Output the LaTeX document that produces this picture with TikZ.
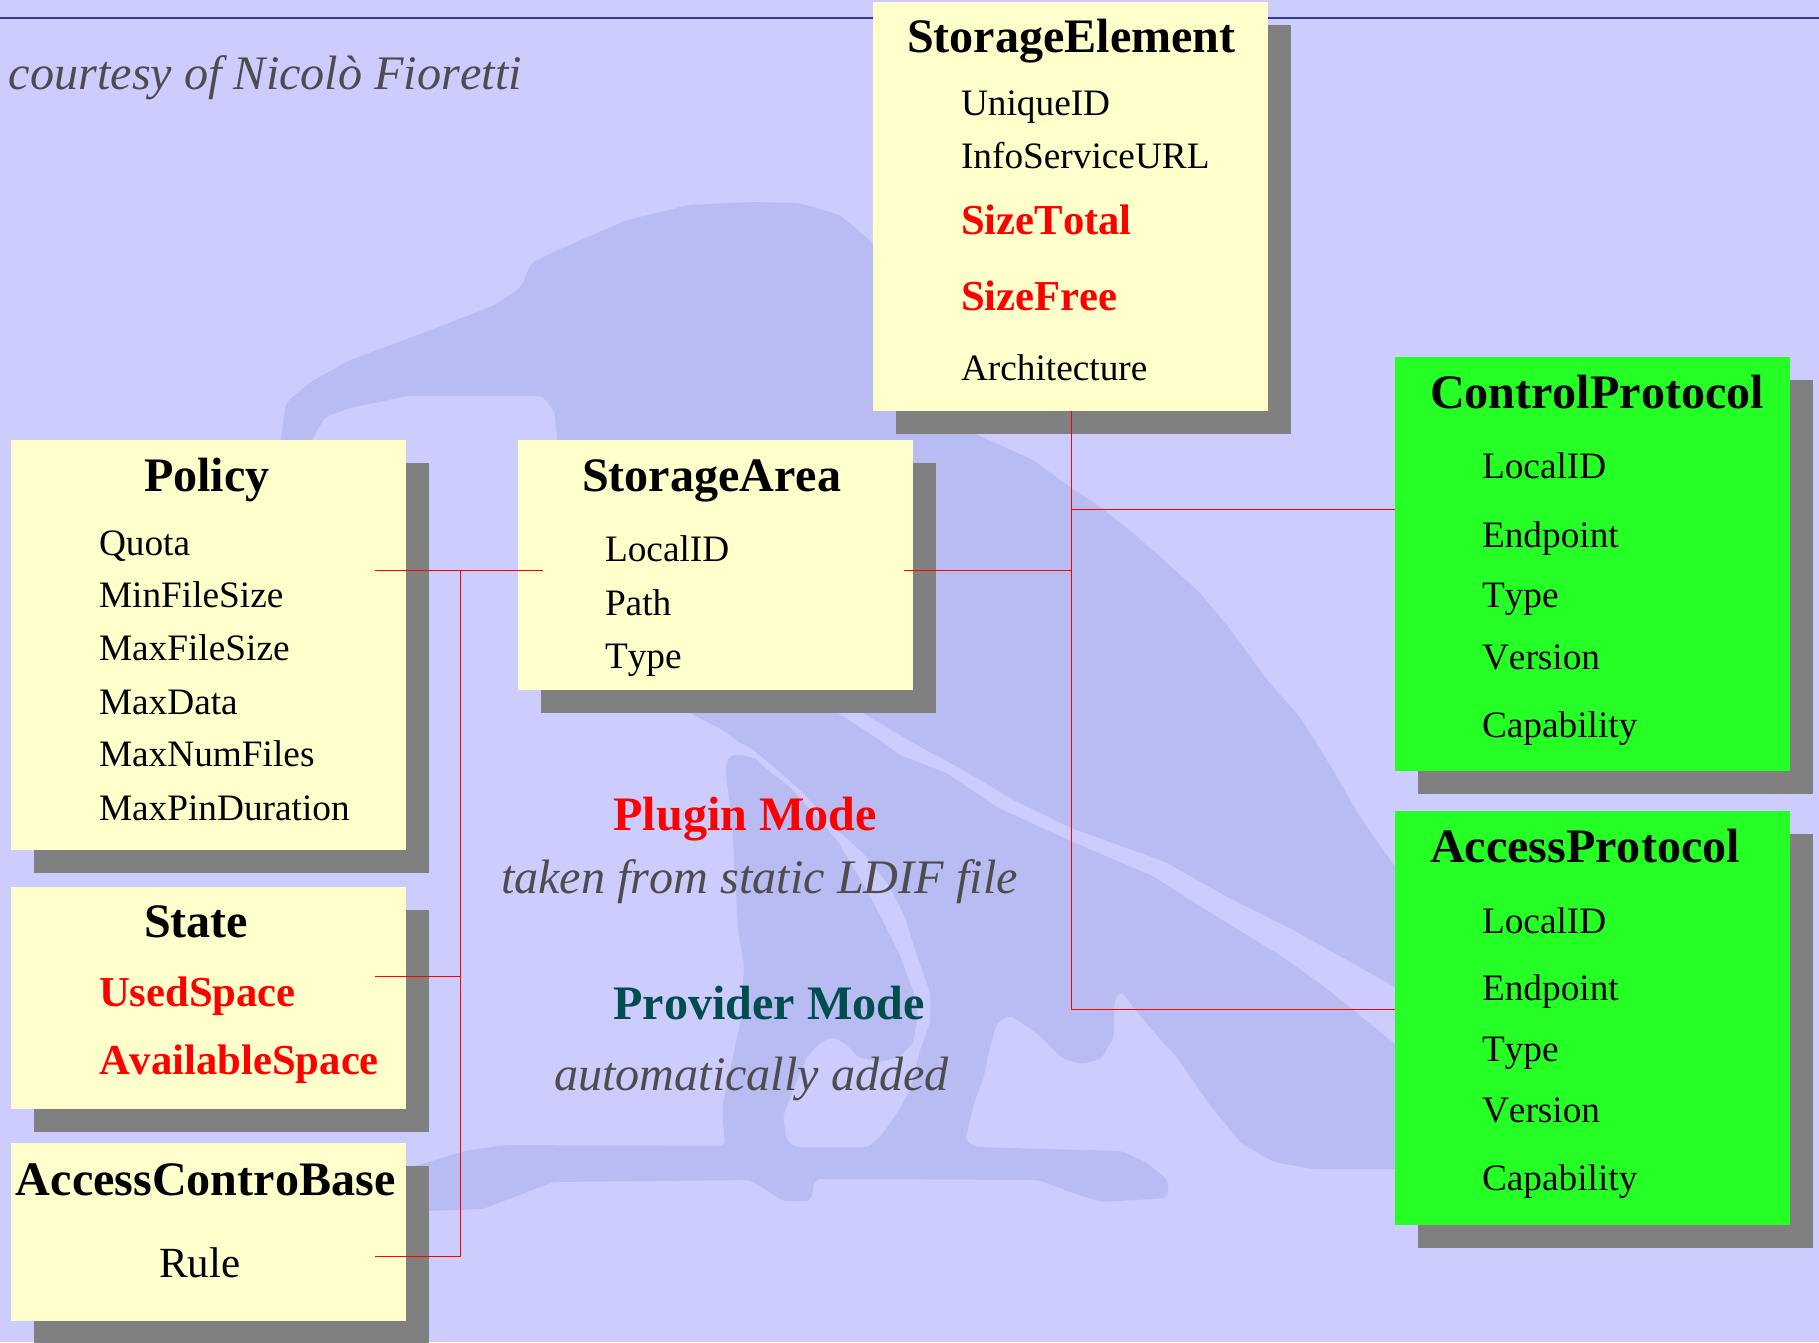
\documentclass[tikz,border=0pt]{standalone}
\usepackage{fontspec}
\setmainfont[Kerning=Off]{Liberation Serif}
\usetikzlibrary{shadows}
\definecolor{bgblue}{HTML}{CCCCFF}
\definecolor{birdblue}{HTML}{B9BCF3}
\definecolor{paleyellow}{HTML}{FFFFCC}
\definecolor{brightgreen}{HTML}{26FF26}
\definecolor{shadowgray}{HTML}{808080}
\definecolor{toprule}{HTML}{3333AA}
\definecolor{noteink}{HTML}{4D4D4D}
\definecolor{tealink}{HTML}{004D4D}
\tikzset{
  box/.style={anchor=north west,inner sep=0pt,outer sep=0pt,draw=none,
    drop shadow={fill=shadowgray,opacity=1,shadow xshift=23pt,shadow yshift=-23pt}},
  ybox/.style={box,fill=paleyellow},
  gbox/.style={box,fill=brightgreen},
  link/.style={draw=red,line width=0.9pt},
  lab/.style={anchor=base west,inner sep=0pt,outer sep=0pt},
  boxtitle/.style={lab,font=\fontsize{48.1}{56}\selectfont\bfseries},
  attr/.style={lab,font=\fontsize{37.3}{44}\selectfont},
  hot/.style={lab,text=red,font=\fontsize{42.7}{50}\selectfont\bfseries},
  note/.style={lab,text=noteink,font=\fontsize{48.2}{56}\selectfont\itshape},
  mode/.style={lab,font=\fontsize{48.1}{56}\selectfont\bfseries}
}
\begin{document}
\begin{tikzpicture}[x=1pt,y=-1pt]
\useasboundingbox (0,0) rectangle (1819,1342);
\clip (0,0) rectangle (1819,1342);
\fill[bgblue] (0,0) rectangle (1819,1342);
% watermark bird
\fill[birdblue,rounded corners=5pt] (280,445) -- (286,403) -- (309,383) -- (350,360) -- (423,333) -- (495,305) -- (521,287)
  -- (531,263) -- (558,250) -- (627,220) -- (689,205) -- (750,202) -- (799,203) -- (840,215) -- (872,242)
  -- (940,400) -- (973,433) -- (1000,445) -- (1033,460) -- (1070,487) -- (1100,507) -- (1133,533) -- (1167,563)
  -- (1200,593) -- (1233,633) -- (1267,680) -- (1300,717) -- (1333,770) -- (1360,817) -- (1396,868)
  -- (1420,1169) -- (1312,1169) -- (1274,1162) -- (1242,1144) -- (1210,1105) -- (1178,1059) -- (1146,1023)
  -- (1121,991) -- (1114,1001) -- (1114,1037) -- (1101,1059) -- (1082,1064) -- (1063,1059) -- (1038,1034)
  -- (1010,1015) -- (997,1023) -- (990,1047) -- (983,1080) -- (975,1100) -- (970,1120) -- (965,1140) -- (975,1147) -- (1121,1151)
  -- (1146,1162) -- (1168,1180) -- (1168,1198) -- (1102,1202) -- (1076,1194) -- (1038,1180) -- (815,1179)
  -- (811,1201) -- (783,1201) -- (751,1180) -- (553,1182) -- (483,1209) -- (400,1212) -- (400,1170)
  -- (429,1162) -- (464,1151) -- (505,1145) -- (725,1146) -- (722,1109) -- (741,1019) -- (744,966)
  -- (738,930) -- (732,823) -- (725,767) -- (730,755) -- (743,755) -- (760,760) -- (755,750) -- (740,743)
  -- (723,730) -- (690,713) -- (600,600) -- (558,445) -- (554,410) -- (542,396) -- (407,396) -- (350,408)
  -- (325,417) -- (309,445) -- cycle;
% pale gaps in the bird
\fill[bgblue,rounded corners=4pt] (756,752) -- (800,790) -- (837,830) -- (863,853) -- (890,887) -- (905,917) -- (915,950)
  -- (930,993) -- (930,1023) -- (920,1050) -- (910,1090) -- (897,1113) -- (880,1137) -- (868,1147) -- (795,1147)
  -- (787,1140) -- (783,1117) -- (793,1090) -- (807,1057) -- (820,1043) -- (833,1037) -- (847,1045) -- (857,1057)
  -- (880,1062) -- (900,1057) -- (913,1043) -- (918,1017) -- (913,990) -- (900,955) -- (885,925) -- (867,890)
  -- (837,840) -- (790,787) -- (756,760) -- cycle;
\fill[bgblue,rounded corners=4pt] (825,700) -- (863,713) -- (913,743) -- (963,770) -- (1013,800) -- (1071,828) -- (1165,862)
  -- (1229,898) -- (1293,930) -- (1400,990) -- (1400,1048) -- (1325,987) -- (1280,955) -- (1216,916)
  -- (1153,876) -- (1071,841) -- (997,807) -- (947,773) -- (900,755) -- (880,740) -- (838,713) -- cycle;
% top rule
\coordinate (ruleL) at (0,18);
\coordinate (ruleR) at (1819,18);
\draw[toprule,line width=1.2pt] (ruleL) -- (ruleR);
% boxes
\node[ybox,minimum width=395pt,minimum height=409pt] (se) at (873,2) {};
\node[ybox,minimum width=395pt,minimum height=409.5pt] (policy) at (11,440) {};
\node[ybox,minimum width=395pt,minimum height=250pt] (sa) at (518,440) {};
\node[ybox,minimum width=395pt,minimum height=222pt] (state) at (11,887) {};
\node[ybox,minimum width=395pt,minimum height=177.5pt] (acb) at (11,1143) {};
\node[gbox,minimum width=395pt,minimum height=414pt] (cp) at (1395,357) {};
\node[gbox,minimum width=395pt,minimum height=413.5pt] (ap) at (1395,811) {};
% connectors
\coordinate (policyTap) at (375,570);
\coordinate (saIn) at (543,570);
\coordinate (leftJoin) at (460,570);
\coordinate (stateTap) at (375,976);
\coordinate (stateJoin) at (460,976);
\coordinate (acbTap) at (375,1256);
\coordinate (saTap) at (904,570);
\coordinate (saJoin) at (1071,570);
\coordinate (cpJoin) at (1071,509.5);
\coordinate (apIn) at (1395,1009);
\draw[link] (policyTap) -- (saIn);
\draw[link] (stateTap) -- (stateJoin);
\draw[link] (leftJoin) |- (acbTap);
\draw[link] (saTap) -- (saJoin);
\draw[link] (cpJoin) -- (cp.west |- cpJoin);
\draw[link] (se.south -| cpJoin) |- (apIn);
% texts
\node[note] (courtesy) at (9,89.5) {courtesy of Nicolò Fioretti};
\node[boxtitle] (seT) at (907,52.5) {StorageElement};
\node[attr] (se1) at (961,115) {UniqueID};
\node[attr] (se2) at (961,168.5) {InfoServiceURL};
\node[hot] (se3) at (961,234) {SizeTotal};
\node[hot] (se4) at (961,310) {SizeFree};
\node[attr] (se5) at (961,380) {Architecture};
\node[boxtitle] (pT) at (144,491) {Policy};
\node[attr] (p1) at (99,555) {Quota};
\node[attr] (p2) at (99,607.5) {MinFileSize};
\node[attr] (p3) at (99,660) {MaxFileSize};
\node[attr] (p4) at (99,714) {MaxData};
\node[attr] (p5) at (99,766.5) {MaxNumFiles};
\node[attr] (p6) at (99,820) {MaxPinDuration};
\node[boxtitle] (saT) at (582,491) {StorageArea};
\node[attr] (sa1) at (605,561.5) {LocalID};
\node[attr] (sa2) at (605,615.5) {Path};
\node[attr] (sa3) at (605,668) {Type};
\node[boxtitle] (stT) at (144,937) {State};
\node[hot] (st1) at (99,1006) {UsedSpace};
\node[hot] (st2) at (99,1074) {AvailableSpace};
\node[boxtitle] (acbT) at (16,1195) {AccessControBase};
\node[attr,font=\fontsize{43}{50}\selectfont] (acb1) at (159,1277) {Rule};
\node[boxtitle] (cpT) at (1430,408) {ControlProtocol};
\node[attr] (cp1) at (1482,478.5) {LocalID};
\node[attr] (cp2) at (1482,547) {Endpoint};
\node[attr] (cp3) at (1482,607.5) {Type};
\node[attr] (cp4) at (1482,669) {Version};
\node[attr] (cp5) at (1482,737) {Capability};
\node[boxtitle] (apT) at (1430,862.5) {AccessProtocol};
\node[attr] (ap1) at (1482,933) {LocalID};
\node[attr] (ap2) at (1482,1000.5) {Endpoint};
\node[attr] (ap3) at (1482,1061.5) {Type};
\node[attr] (ap4) at (1482,1122) {Version};
\node[attr] (ap5) at (1482,1190) {Capability};
\node[mode,text=red] (plugin) at (613.5,830) {Plugin Mode};
\node[note] (pluginNote) at (501,893) {taken from static LDIF file};
\node[mode,text=tealink] (provider) at (613.5,1019) {Provider Mode};
\node[note] (providerNote) at (554,1090) {automatically added};
\end{tikzpicture}
\end{document}
